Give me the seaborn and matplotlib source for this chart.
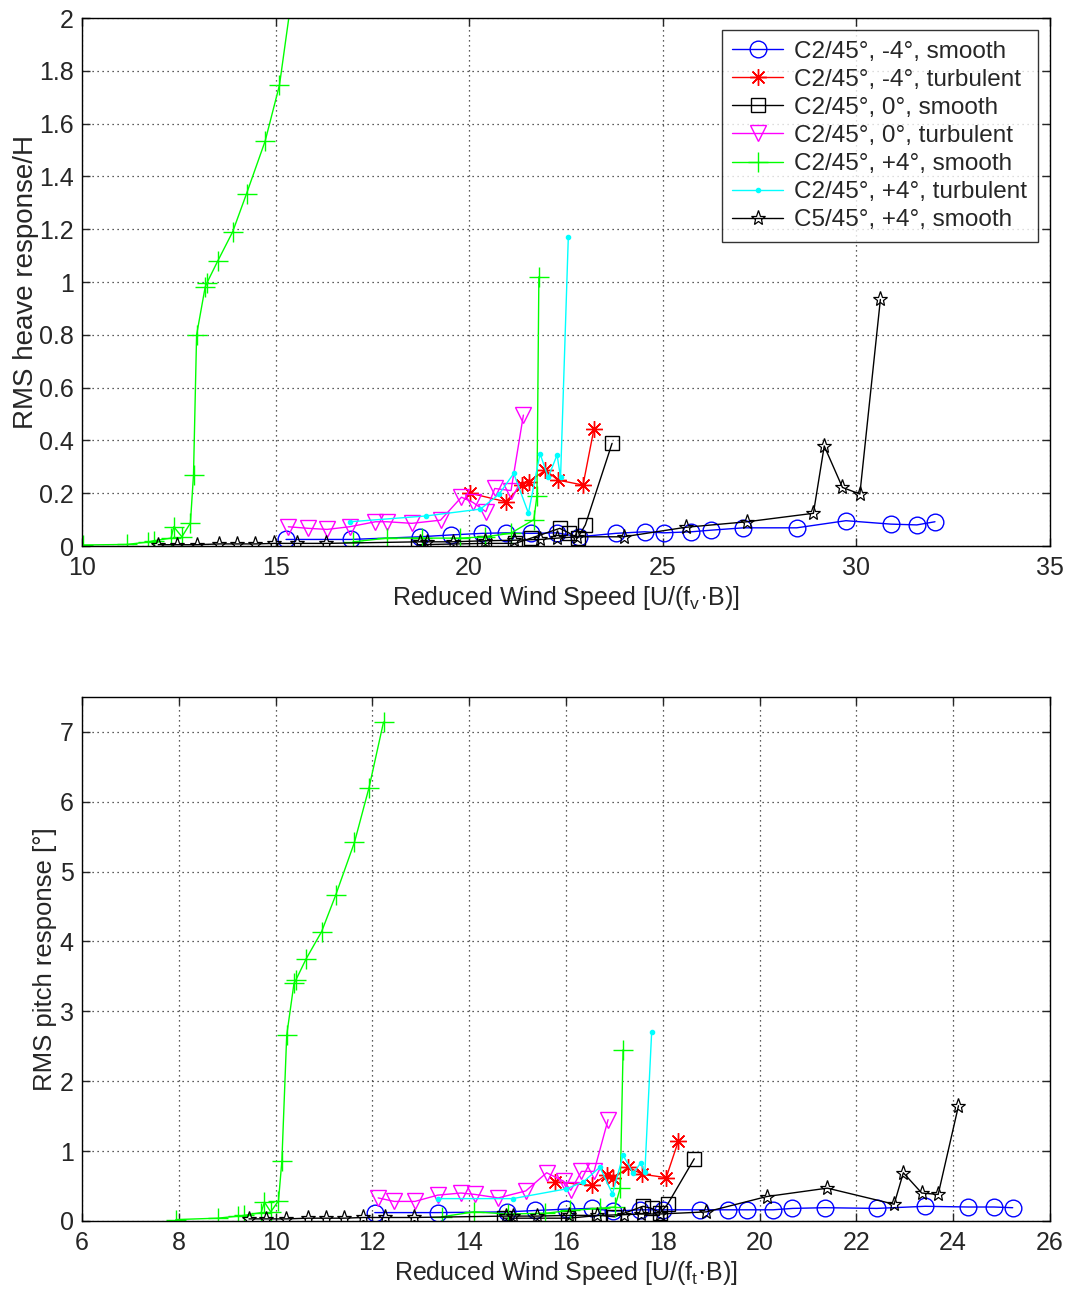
import numpy as np
import pandas as pd
import matplotlib
matplotlib.use("Agg")
import matplotlib.pyplot as plt
import seaborn as sns

sns.set_style("ticks")
plt.rcParams['font.family'] = ['Liberation Sans', 'DejaVu Sans']
plt.rcParams['mathtext.default'] = 'regular'

labels = ["C2/45°, -4°, smooth", "C2/45°, -4°, turbulent", "C2/45°, 0°, smooth",
          "C2/45°, 0°, turbulent", "C2/45°, +4°, smooth", "C2/45°, +4°, turbulent",
          "C5/45°, +4°, smooth"]

# ---------------- heave (top) ----------------
h_blue_x = [15.27, 16.95, 18.73, 19.52, 20.33, 20.94, 21.6, 22.27, 22.83, 23.78, 24.53, 25.03,
            25.74, 26.24, 27.08, 28.46, 29.73, 30.89, 31.56, 32.03]
h_blue_y = [0.025, 0.025, 0.035, 0.042, 0.048, 0.05, 0.048, 0.05, 0.035, 0.048, 0.054, 0.05,
            0.054, 0.06, 0.069, 0.069, 0.096, 0.083, 0.08, 0.092]
h_red_x = [20.03, 20.94, 21.37, 21.54, 21.97, 22.29, 22.94, 23.22]
h_red_y = [0.2, 0.168, 0.231, 0.244, 0.288, 0.25, 0.231, 0.442]
h_sq_x = [18.68, 20.38, 21.19, 21.6, 22.34, 22.57, 22.8, 23.0, 23.69]
h_sq_y = [0.005, 0.01, 0.01, 0.03, 0.067, 0.05, 0.03, 0.08, 0.389]
h_mag_x = [15.33, 15.85, 16.33, 16.91, 17.58, 17.88, 18.52, 19.26, 19.8, 20.1, 20.43, 20.66, 21.08, 21.4]
h_mag_y = [0.073, 0.067, 0.063, 0.073, 0.092, 0.092, 0.086, 0.098, 0.185, 0.165, 0.13, 0.218, 0.21, 0.496]
h_grn1_x = [10.03, 11.15, 11.7, 11.85, 12.3, 12.37, 12.58, 12.8, 12.88, 12.96, 13.18, 13.22,
            13.5, 13.89, 14.25, 14.73, 15.1, 15.53]
h_grn1_y = [0.004, 0.006, 0.015, 0.02, 0.03, 0.073, 0.035, 0.087, 0.27, 0.8, 0.98, 0.995,
            1.078, 1.19, 1.335, 1.534, 1.746, 2.2]
h_grn2_x = [17.0, 17.88, 18.78, 19.77, 20.4, 21.07, 21.67, 21.75, 21.8]
h_grn2_y = [0.016, 0.03, 0.03, 0.03, 0.035, 0.048, 0.1, 0.19, 1.02]
h_cyan_x = [16.93, 18.89, 20.29, 20.77, 21.15, 21.53, 21.83, 22.04, 22.27, 22.36, 22.56]
h_cyan_y = [0.092, 0.114, 0.14, 0.196, 0.275, 0.125, 0.35, 0.26, 0.345, 0.26, 1.17]
h_star_x = [11.97, 12.45, 12.96, 13.55, 14.0, 14.47, 14.97, 15.55, 16.3, 18.72, 18.91, 19.58,
            20.42, 21.15, 21.84, 22.27, 22.79, 23.99, 25.59, 27.18, 28.89, 29.17, 29.64, 30.09, 30.62]
h_star_y = [0.005, 0.005, 0.005, 0.008, 0.008, 0.008, 0.01, 0.01, 0.01, 0.016, 0.016, 0.016,
            0.02, 0.022, 0.025, 0.03, 0.035, 0.035, 0.071, 0.092, 0.124, 0.379, 0.222, 0.197, 0.934]

# ---------------- pitch (bottom) ----------------
p_blue_x = [12.05, 13.35, 14.78, 15.37, 16.01, 16.53, 16.98, 17.53, 18.01, 18.77, 19.35, 19.73,
            20.28, 20.68, 21.35, 22.42, 23.42, 24.31, 24.84, 25.23]
p_blue_y = [0.12, 0.12, 0.13, 0.15, 0.17, 0.18, 0.14, 0.16, 0.16, 0.16, 0.16, 0.16,
            0.16, 0.18, 0.19, 0.18, 0.21, 0.2, 0.2, 0.19]
p_red_x = [15.77, 16.53, 16.84, 16.98, 17.29, 17.57, 18.07, 18.32]
p_red_y = [0.56, 0.51, 0.66, 0.61, 0.77, 0.67, 0.62, 1.14]
p_sq_x = [14.71, 16.05, 16.69, 17.0, 17.59, 17.77, 17.95, 18.1, 18.65]
p_sq_y = [0.04, 0.04, 0.08, 0.06, 0.21, 0.18, 0.12, 0.24, 0.89]
p_mag_x = [12.12, 12.45, 12.88, 13.35, 13.83, 14.12, 14.6, 15.17, 15.6, 15.95, 16.1, 16.32, 16.58, 16.87]
p_mag_y = [0.33, 0.28, 0.28, 0.37, 0.4, 0.38, 0.33, 0.43, 0.69, 0.57, 0.44, 0.71, 0.71, 1.45]
p_grn1_x = [7.94, 8.8, 9.23, 9.35, 9.7, 9.77, 9.9, 10.06, 10.13, 10.23, 10.38, 10.42,
            10.63, 10.95, 11.24, 11.63, 11.93, 12.23]
p_grn1_y = [0.02, 0.04, 0.07, 0.08, 0.12, 0.27, 0.13, 0.29, 0.86, 2.66, 3.40, 3.45,
            3.75, 4.14, 4.66, 5.42, 6.2, 7.14]
p_grn2_x = [13.43, 14.1, 14.8, 15.57, 16.08, 16.7, 17.01, 17.12, 17.18]
p_grn2_y = [0.06, 0.13, 0.1, 0.11, 0.15, 0.18, 0.2, 0.47, 2.45]
p_cyan_x = [13.35, 14.9, 16.01, 16.36, 16.7, 16.96, 17.18, 17.39, 17.54, 17.63, 17.77]
p_cyan_y = [0.32, 0.32, 0.46, 0.56, 0.77, 0.39, 0.94, 0.68, 0.83, 0.7, 2.7]
p_star_x = [9.45, 9.8, 10.22, 10.68, 11.05, 11.41, 11.81, 12.26, 12.85, 14.77, 14.9, 15.4,
            16.07, 16.65, 17.2, 17.54, 17.94, 18.9, 20.15, 21.4, 22.78, 22.97, 23.35, 23.69, 24.11]
p_star_y = [0.03, 0.03, 0.03, 0.04, 0.04, 0.04, 0.05, 0.05, 0.05, 0.07, 0.07, 0.07,
            0.08, 0.08, 0.09, 0.1, 0.1, 0.13, 0.35, 0.47, 0.24, 0.69, 0.4, 0.38, 1.65]

styles = [
    dict(color=(0, 0, 1), marker='o', ms=12, mfc='none', mew=1.0),
    dict(color=(1, 0, 0), marker=(8, 2, 0), ms=12, mew=1.0),
    dict(color=(0, 0, 0), marker='s', ms=10, mfc='none', mew=1.0),
    dict(color=(1, 0, 1), marker='v', ms=12, mfc='none', mew=1.0),
    dict(color=(0, 1, 0), marker='+', ms=14, mew=1.0),
    dict(color=(0, 1, 1), marker='.', ms=6, mew=1.0),
    dict(color=(0, 0, 0), marker='*', ms=11, mfc='none', mew=0.9),
]

fig = plt.figure(figsize=(10.69, 12.93), dpi=100)
ax1 = fig.add_axes([0.0767, 0.5777, 0.9055, 0.4083])
ax2 = fig.add_axes([0.0767, 0.0557, 0.9055, 0.4053])


def draw(ax, sets):
    for i, segs in enumerate(sets):
        st = styles[i]
        for j, (xs, ys) in enumerate(segs):
            df = pd.DataFrame({'x': xs, 'y': ys})
            sns.lineplot(data=df, x='x', y='y', ax=ax, sort=False, estimator=None,
                         color=st['color'], marker=st['marker'], ms=st['ms'],
                         mfc=st.get('mfc', st['color']), mec=st['color'], mew=st['mew'],
                         lw=1.0, label=labels[i] if j == 0 else '_nolegend_',
                         legend=False, clip_on=True)


draw(ax1, [[(h_blue_x, h_blue_y)], [(h_red_x, h_red_y)], [(h_sq_x, h_sq_y)],
           [(h_mag_x, h_mag_y)], [(h_grn1_x, h_grn1_y), (h_grn2_x, h_grn2_y)],
           [(h_cyan_x, h_cyan_y)], [(h_star_x, h_star_y)]])
draw(ax2, [[(p_blue_x, p_blue_y)], [(p_red_x, p_red_y)], [(p_sq_x, p_sq_y)],
           [(p_mag_x, p_mag_y)], [(p_grn1_x, p_grn1_y), (p_grn2_x, p_grn2_y)],
           [(p_cyan_x, p_cyan_y)], [(p_star_x, p_star_y)]])

fs = 18
ax1.set_xlim(10, 35)
ax1.set_ylim(0, 2)
ax1.set_xticks([10, 15, 20, 25, 30, 35])
ax1.set_yticks(np.arange(0, 2.01, 0.2))
ax1.set_yticklabels(['0', '0.2', '0.4', '0.6', '0.8', '1', '1.2', '1.4', '1.6', '1.8', '2'])
ax1.set_xlabel('Reduced Wind Speed [U/(f$_v$·B)]', fontsize=18, labelpad=3)
ax1.set_ylabel('RMS heave response/H', fontsize=20, labelpad=0)

ax2.set_xlim(6, 26)
ax2.set_ylim(0, 7.5)
ax2.set_xticks(np.arange(6, 27, 2))
ax2.set_yticks(np.arange(0, 8, 1))
ax2.set_xlabel('Reduced Wind Speed [U/(f$_t$·B)]', fontsize=18, labelpad=3)
ax2.set_ylabel('RMS pitch response [°]', fontsize=18.5, labelpad=2)

for ax in (ax1, ax2):
    ax.grid(True, ls=(0, (1, 3)), color='k', lw=0.9, alpha=0.85)
    ax.tick_params(direction='in', top=True, right=True, labelsize=fs, length=6, width=1)
    ax.tick_params(axis='x', pad=7)
    ax.tick_params(axis='y', pad=6)
    for sp in ax.spines.values():
        sp.set_visible(True)
        sp.set_color('k')
        sp.set_linewidth(1.0)
    ax.set_facecolor('white')

leg = ax1.legend(loc='upper right', bbox_to_anchor=(0.988, 0.978), borderaxespad=0,
                 fontsize=17.5, frameon=True, fancybox=False, handlelength=2.1,
                 handletextpad=0.45, labelspacing=0.25, borderpad=0.45)
leg.get_frame().set_edgecolor('k')
leg.get_frame().set_linewidth(1.0)

fig.savefig('out.png', dpi=100, facecolor='white')
